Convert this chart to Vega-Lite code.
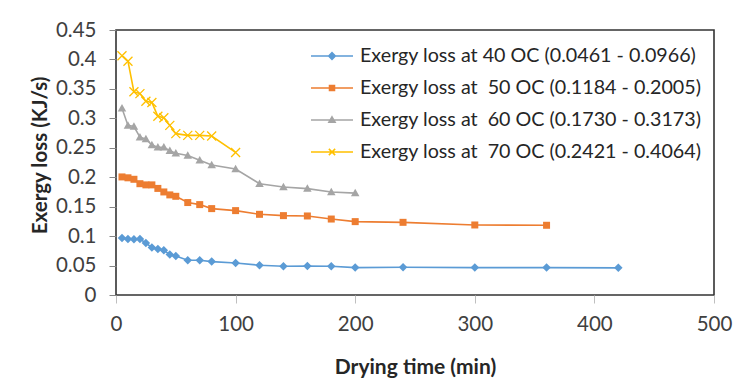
{
  "$schema": "https://vega.github.io/schema/vega-lite/v6.json",
  "width": 598,
  "height": 265,
  "autosize": {"type": "none"},
  "padding": {"left": 116, "top": 30, "right": 19, "bottom": 92},
  "background": "white",
  "config": {
    "font": "Lato",
    "view": {"stroke": "#333333", "strokeWidth": 1.6}
  },
  "data": {
    "values": [
      {"temp": "40", "time": 5, "loss": 0.0966},
      {"temp": "40", "time": 10, "loss": 0.095},
      {"temp": "40", "time": 15, "loss": 0.0946},
      {"temp": "40", "time": 20, "loss": 0.095},
      {"temp": "40", "time": 25, "loss": 0.0883},
      {"temp": "40", "time": 30, "loss": 0.0805},
      {"temp": "40", "time": 35, "loss": 0.078},
      {"temp": "40", "time": 40, "loss": 0.076},
      {"temp": "40", "time": 45, "loss": 0.0686},
      {"temp": "40", "time": 50, "loss": 0.0663},
      {"temp": "40", "time": 60, "loss": 0.059},
      {"temp": "40", "time": 70, "loss": 0.059},
      {"temp": "40", "time": 80, "loss": 0.0567},
      {"temp": "40", "time": 100, "loss": 0.0544},
      {"temp": "40", "time": 120, "loss": 0.0505},
      {"temp": "40", "time": 140, "loss": 0.0488},
      {"temp": "40", "time": 160, "loss": 0.0493},
      {"temp": "40", "time": 180, "loss": 0.0488},
      {"temp": "40", "time": 200, "loss": 0.0465},
      {"temp": "40", "time": 240, "loss": 0.047},
      {"temp": "40", "time": 300, "loss": 0.0465},
      {"temp": "40", "time": 360, "loss": 0.0465},
      {"temp": "40", "time": 420, "loss": 0.0461},
      {"temp": "50", "time": 5, "loss": 0.2005},
      {"temp": "50", "time": 10, "loss": 0.199},
      {"temp": "50", "time": 15, "loss": 0.1965},
      {"temp": "50", "time": 20, "loss": 0.189},
      {"temp": "50", "time": 25, "loss": 0.187},
      {"temp": "50", "time": 30, "loss": 0.187},
      {"temp": "50", "time": 35, "loss": 0.181},
      {"temp": "50", "time": 40, "loss": 0.175},
      {"temp": "50", "time": 45, "loss": 0.17},
      {"temp": "50", "time": 50, "loss": 0.1676},
      {"temp": "50", "time": 60, "loss": 0.157},
      {"temp": "50", "time": 70, "loss": 0.1535},
      {"temp": "50", "time": 80, "loss": 0.1467},
      {"temp": "50", "time": 100, "loss": 0.1433},
      {"temp": "50", "time": 120, "loss": 0.137},
      {"temp": "50", "time": 140, "loss": 0.1348},
      {"temp": "50", "time": 160, "loss": 0.1342},
      {"temp": "50", "time": 180, "loss": 0.129},
      {"temp": "50", "time": 200, "loss": 0.1246},
      {"temp": "50", "time": 240, "loss": 0.1234},
      {"temp": "50", "time": 300, "loss": 0.1189},
      {"temp": "50", "time": 360, "loss": 0.1184},
      {"temp": "60", "time": 5, "loss": 0.3173},
      {"temp": "60", "time": 10, "loss": 0.288},
      {"temp": "60", "time": 15, "loss": 0.286},
      {"temp": "60", "time": 20, "loss": 0.268},
      {"temp": "60", "time": 25, "loss": 0.265},
      {"temp": "60", "time": 30, "loss": 0.2547},
      {"temp": "60", "time": 35, "loss": 0.251},
      {"temp": "60", "time": 40, "loss": 0.2508},
      {"temp": "60", "time": 45, "loss": 0.245},
      {"temp": "60", "time": 50, "loss": 0.2406},
      {"temp": "60", "time": 60, "loss": 0.237},
      {"temp": "60", "time": 70, "loss": 0.229},
      {"temp": "60", "time": 80, "loss": 0.2207},
      {"temp": "60", "time": 100, "loss": 0.214},
      {"temp": "60", "time": 120, "loss": 0.189},
      {"temp": "60", "time": 140, "loss": 0.1834},
      {"temp": "60", "time": 160, "loss": 0.1807},
      {"temp": "60", "time": 180, "loss": 0.175},
      {"temp": "60", "time": 200, "loss": 0.173},
      {"temp": "70", "time": 5, "loss": 0.4064},
      {"temp": "70", "time": 10, "loss": 0.397},
      {"temp": "70", "time": 15, "loss": 0.345},
      {"temp": "70", "time": 20, "loss": 0.342},
      {"temp": "70", "time": 25, "loss": 0.329},
      {"temp": "70", "time": 30, "loss": 0.327},
      {"temp": "70", "time": 35, "loss": 0.3035},
      {"temp": "70", "time": 40, "loss": 0.301},
      {"temp": "70", "time": 45, "loss": 0.288},
      {"temp": "70", "time": 50, "loss": 0.274},
      {"temp": "70", "time": 60, "loss": 0.271},
      {"temp": "70", "time": 70, "loss": 0.271},
      {"temp": "70", "time": 80, "loss": 0.27},
      {"temp": "70", "time": 100, "loss": 0.2421}
    ]
  },
  "encoding": {
    "x": {
      "field": "time",
      "type": "quantitative",
      "scale": {"domain": [0, 500], "nice": false},
      "axis": {
        "values": [0, 100, 200, 300, 400, 500],
        "title": "Drying time (min)",
        "grid": false,
        "domain": false,
        "tickColor": "#bfbfbf",
        "tickSize": 8,
        "labelFlush": false,
        "labelOverlap": false,
        "labelFontSize": 20.5,
        "labelColor": "#404040",
        "labelPadding": 11,
        "titleFontSize": 21,
        "titleFontWeight": "bold",
        "titleColor": "#262626",
        "titleBaseline": "middle",
        "titleY": 72
      }
    },
    "y": {
      "field": "loss",
      "type": "quantitative",
      "scale": {"domain": [0, 0.45], "nice": false},
      "axis": {
        "values": [0, 0.05, 0.1, 0.15, 0.2, 0.25, 0.3, 0.35, 0.4, 0.45],
        "format": "~g",
        "title": "Exergy loss (KJ/s)",
        "grid": false,
        "domain": false,
        "tickColor": "#868686",
        "tickSize": 7,
        "labelFlush": false,
        "labelOverlap": false,
        "labelFontSize": 20.5,
        "labelColor": "#404040",
        "labelPadding": 13,
        "titleFontSize": 20.5,
        "titleFontWeight": "bold",
        "titleColor": "#262626",
        "titleAlign": "center",
        "titleBaseline": "middle",
        "titleX": -76,
        "titleY": 125
      }
    }
  },
  "layer": [
    {
      "mark": {"type": "line", "strokeWidth": 1.6},
      "encoding": {
        "color": {
          "field": "temp",
          "type": "nominal",
          "scale": {
            "domain": ["40", "50", "60", "70"],
            "range": ["#5B9BD5", "#ED7D31", "#A5A5A5", "#FFC000"]
          },
          "legend": {
            "orient": "none",
            "legendX": 194,
            "legendY": 4,
            "title": null,
            "padding": 0,
            "symbolSize": 1764,
            "symbolStrokeWidth": 1.5,
            "symbolOffset": 0,
            "labelOffset": 6,
            "rowPadding": 0,
            "labelFont": "Lato",
            "labelFontSize": 19.7,
            "labelColor": "#262626",
            "labelLimit": 500,
            "labelExpr": "datum.label == '40' ? 'Exergy loss at 40 OC (0.0461 - 0.0966)' : datum.label == '50' ? 'Exergy loss at\u00a0 50 OC (0.1184 - 0.2005)' : datum.label == '60' ? 'Exergy loss at\u00a0 60 OC (0.1730 - 0.3173)' : 'Exergy loss at\u00a0 70 OC (0.2421 - 0.4064)'",
            "encode": {
              "symbols": {
                "update": {
                  "shape": {"signal": "datum.value == '40' ? 'M-1,0L1,0M-0.16,0L0,-0.16L0.16,0L0,0.16Z' : datum.value == '50' ? 'M-1,0L1,0M-0.12,-0.12L0.12,-0.12L0.12,0.12L-0.12,0.12Z' : datum.value == '60' ? 'M-1,0L1,0M0,-0.15L0.15,0.11L-0.15,0.11Z' : 'M-1,0L1,0M-0.15,-0.15L0.15,0.15M-0.15,0.15L0.15,-0.15'"},
                  "fill": {"scale": "color", "field": "value"},
                  "stroke": {"scale": "color", "field": "value"}
                }
              }
            }
          }
        }
      }
    },
    {
      "transform": [{"filter": "datum.temp == '40'"}],
      "mark": {"type": "point", "filled": true, "opacity": 1, "size": 100, "color": "#5B9BD5", "shape": "M-0.85,0L0,-0.85L0.85,0L0,0.85Z"}
    },
    {
      "transform": [{"filter": "datum.temp == '50'"}],
      "mark": {"type": "point", "filled": true, "opacity": 1, "size": 100, "color": "#ED7D31", "shape": "M-0.7,-0.7L0.7,-0.7L0.7,0.7L-0.7,0.7Z"}
    },
    {
      "transform": [{"filter": "datum.temp == '60'"}],
      "mark": {"type": "point", "filled": true, "opacity": 1, "size": 100, "color": "#A5A5A5", "shape": "M0,-0.85L0.85,0.65L-0.85,0.65Z"}
    },
    {
      "transform": [{"filter": "datum.temp == '70'"}],
      "mark": {"type": "point", "filled": false, "opacity": 1, "size": 100, "strokeWidth": 1.3, "color": "#FFC000", "shape": "M-0.9,-0.9L0.9,0.9M-0.9,0.9L0.9,-0.9"}
    }
  ]
}
